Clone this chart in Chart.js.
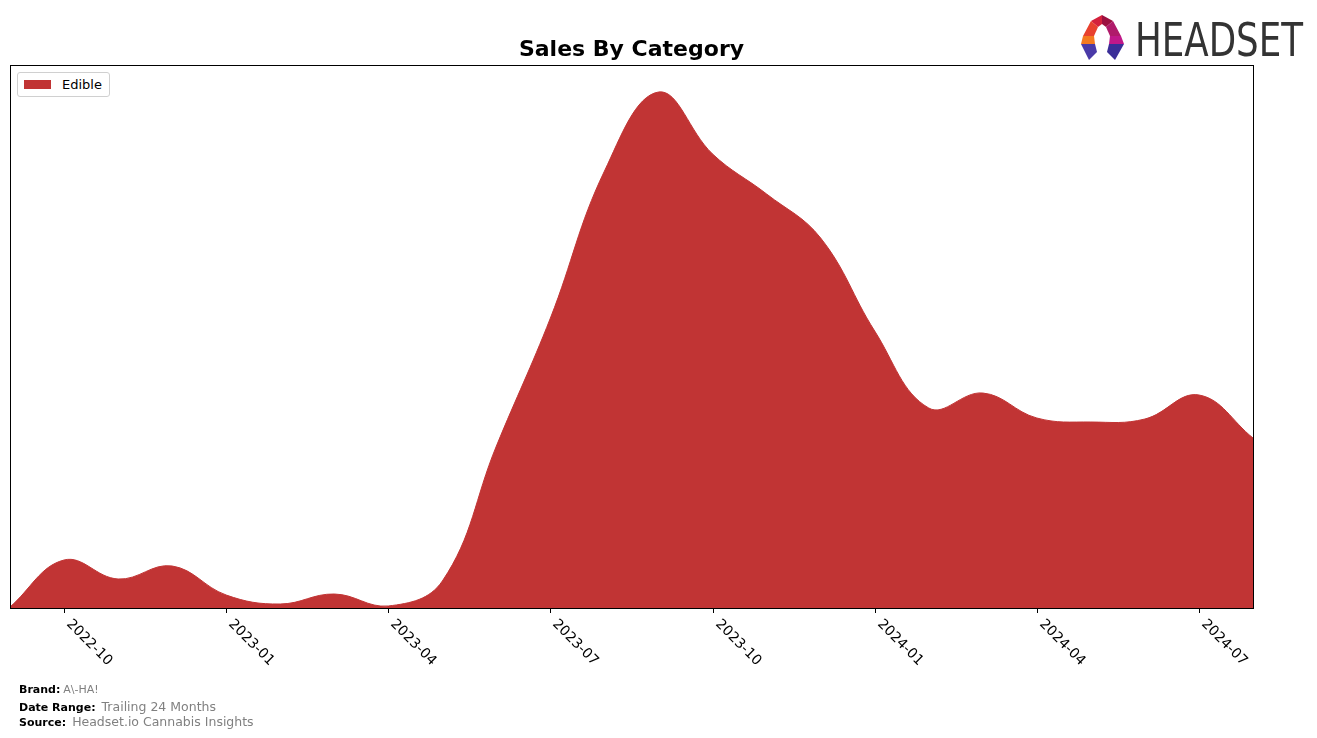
<!DOCTYPE html>
<html>
<head>
<meta charset="utf-8">
<script src="https://cdn.jsdelivr.net/npm/chart.js@4"></script>
<style>
  body { margin: 0; background: #fff; font-family: "DejaVu Sans", sans-serif; }
  #wrap { position: absolute; left: 0; top: 0; width: 1317px; height: 738px; }
  #title { position: absolute; left: 10px; width: 1243px; top: 36px; text-align: center;
           font-weight: bold; font-size: 22px; color: #000; }
  #legend { position: absolute; left: 17px; top: 72px; width: 91px; height: 23px;
            border: 1px solid #d0d0d0; border-radius: 3px; background: #fff; }
  #legend .sw { position: absolute; left: 6px; top: 7px; width: 27px; height: 9px; background: #c13434; }
  #legend .lb { position: absolute; left: 44px; top: 4px; font-size: 13px; color: #000; }
  .foot { position: absolute; left: 19px; font-size: 11px; color: #000; }
  .foot b { font-size: 11px; }
  .foot span { color: #808080; margin-left: 5px; }
  #logo { position: absolute; left: 1078px; top: 14px; }
</style>
</head>
<body>
<div id="wrap">
  <canvas id="salesChart" width="1317" height="738"></canvas>
</div>
<div id="title">Sales By Category</div>
<div id="legend"><div class="sw"></div><div class="lb">Edible</div></div>
<div class="foot" style="top:683px"><b>Brand:</b><span style="font-size:11px;margin-left:3px">A\-HA!</span></div>
<div class="foot" style="top:699px"><b>Date Range:</b><span style="font-size:12.5px;margin-left:6px">Trailing 24 Months</span></div>
<div class="foot" style="top:714px"><b>Source:</b><span style="font-size:12.5px;margin-left:6px">Headset.io Cannabis Insights</span></div>
<svg id="logo" width="230" height="50" viewBox="0 0 230 50">
  <polygon points="24,1 35,7 28,13 24,10" fill="#9b1040"/>
  <polygon points="24,1 13,7 20,13 24,10" fill="#d4213c"/>
  <polygon points="13,7 20,13 16,22 5,22" fill="#e8412e"/>
  <polygon points="5,22 16,22 17,30 3,30" fill="#f47a20"/>
  <polygon points="35,7 28,13 32,22 43,22" fill="#b01a6a"/>
  <polygon points="43,22 32,22 31,30 46,30" fill="#c0188a"/>
  <polygon points="3,30 17,30 19,38 11,46" fill="#4a3aa8"/>
  <polygon points="46,30 31,30 29,38 37,46" fill="#3a2e98"/>
  <text x="57" y="42" font-family="Liberation Sans Narrow, DejaVu Sans Condensed, Liberation Sans, sans-serif"
        font-size="46" fill="#333" textLength="168" lengthAdjust="spacingAndGlyphs">HEADSET</text>
</svg>
<script>
// monthly points, 2022-09 .. 2024-08
const months = ['2022-09', '2022-10', '2022-11', '2022-12', '2023-01', '2023-02', '2023-03', '2023-04',
  '2023-05', '2023-06', '2023-07', '2023-08', '2023-09', '2023-10', '2023-11', '2023-12',
  '2024-01', '2024-02', '2024-03', '2024-04', '2024-05', '2024-06', '2024-07', '2024-08'];
const edibleSales = [1, 48, 29, 42, 13, 4, 14, 2, 27, 162, 290, 437, 516, 454, 414, 370,
  277, 200, 215, 190, 186, 189, 213, 170];
const tickMonths = ['2022-10', '2023-01', '2023-04', '2023-07', '2023-10', '2024-01', '2024-04', '2024-07'];
const yMax = 543;

// frame, tick marks and rotated date labels
const axisDecor = {
    id: 'axisDecor',
    afterDraw(chart) {
        const ctx = chart.ctx;
        const area = chart.chartArea;
        const xs = chart.scales.x;
        ctx.save();
        ctx.strokeStyle = '#000';
        ctx.lineWidth = 1;
        ctx.strokeRect(Math.round(area.left) + 0.5, Math.round(area.top) + 0.5,
            Math.round(area.right - area.left), Math.round(area.bottom - area.top));
        ctx.fillStyle = '#000';
        ctx.font = '14px "DejaVu Sans"';
        ctx.textAlign = 'left';
        ctx.textBaseline = 'middle';
        tickMonths.forEach(m => {
            const px = Math.round(xs.getPixelForValue(months.indexOf(m))) + 0.5;
            ctx.beginPath();
            ctx.moveTo(px, area.bottom);
            ctx.lineTo(px, area.bottom + 5);
            ctx.stroke();
            ctx.save();
            ctx.translate(px + 4, area.bottom + 14);
            ctx.rotate(Math.PI / 4);
            ctx.fillText(m, 0, 0);
            ctx.restore();
        });
        ctx.restore();
    }
};

const salesCtx = document.getElementById('salesChart').getContext('2d');
const salesChart = new Chart(salesCtx, {
    type: 'line',
    data: {
        datasets: [{
            label: 'Edible',
            data: edibleSales.map((v, i) => ({ x: i, y: v })),
            backgroundColor: '#c13434',
            borderColor: '#c13434',
            borderWidth: 1,
            fill: 'origin',
            pointRadius: 0,
            tension: 0.4
        }]
    },
    options: {
        responsive: false,
        animation: false,
        layout: { padding: { left: 10, top: 65, right: 64, bottom: 130 } },
        plugins: { legend: { display: false }, tooltip: { enabled: false } },
        scales: {
            x: { type: 'linear', display: false, min: 0, max: months.length - 1 },
            y: { display: false, min: 0, max: yMax }
        }
    },
    plugins: [axisDecor]
});
</script>
</body>
</html>
